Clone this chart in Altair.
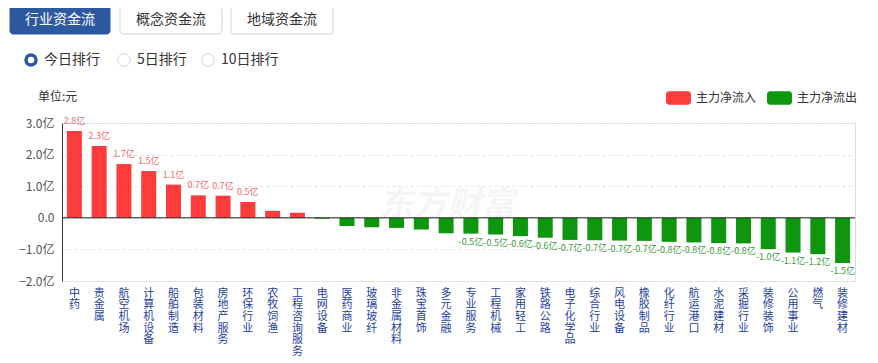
import altair as alt
import pandas as pd

categories = ["中药", "贵金属", "航空机场", "计算机设备", "船舶制造", "包装材料", "房地产服务", "环保行业",
              "农牧饲渔", "工程咨询服务", "电网设备", "医药商业", "玻璃玻纤", "非金属材料", "珠宝首饰", "多元金融",
              "专业服务", "工程机械", "家用轻工", "铁路公路", "电子化学品", "综合行业", "风电设备", "橡胶制品",
              "化纤行业", "航运港口", "水泥建材", "采掘行业", "装修装饰", "公用事业", "燃气", "装修建材"]
values = [2.75, 2.27, 1.70, 1.48, 1.05, 0.71, 0.70, 0.50,
          0.22, 0.16, -0.03, -0.26, -0.30, -0.32, -0.37, -0.49,
          -0.50, -0.53, -0.58, -0.63, -0.70, -0.71, -0.72, -0.73,
          -0.76, -0.78, -0.80, -0.81, -0.99, -1.10, -1.15, -1.43]
bar_labels = ["2.8亿", "2.3亿", "1.7亿", "1.5亿", "1.1亿", "0.7亿", "0.7亿", "0.5亿",
              "", "", "", "", "", "", "", "",
              "-0.5亿", "-0.5亿", "-0.6亿", "-0.6亿", "-0.7亿", "-0.7亿", "-0.7亿", "-0.7亿",
              "-0.8亿", "-0.8亿", "-0.8亿", "-0.8亿", "-1.0亿", "-1.1亿", "-1.2亿", "-1.5亿"]
series_names = ["主力净流入", "主力净流出"]
series_colors = ["#ff3c3c", "#0e960e"]
y_ticks = [-2, -1, 0, 1, 2, 3]
tab_buttons = ["行业资金流", "概念资金流", "地域资金流"]
radio_options = ["今日排行", "5日排行", "10日排行"]
unit_text = "单位:元"
watermark = "东方财富"

df = pd.DataFrame({
    "cat": categories,
    "val": values,
    "label": bar_labels,
    "type": [series_names[0] if v >= 0 else series_names[1] for v in values],
})

FONT = "Noto Sans CJK SC"
one = alt.Data(values=[{}])

rounded = ("M-0.76,-0.54 L0.76,-0.54 A0.24,0.24 0 0 1 1,-0.3 L1,0.3 A0.24,0.24 0 0 1 0.76,0.54 "
           "L-0.76,0.54 A0.24,0.24 0 0 1 -1,0.3 L-1,-0.3 A0.24,0.24 0 0 1 -0.76,-0.54 Z")

x_axis = alt.Axis(labelExpr="split(datum.label, '')", labelAngle=0, domain=False,
                  ticks=False, grid=False, labelBaseline="top", labelPadding=6,
                  labelLineHeight=11.7, labelFontSize=11, labelColor="#1f3f9f",
                  labelFont=FONT, labelOverlap=False)
x_scale = alt.Scale(paddingInner=0, paddingOuter=0)
y_axis = alt.Axis(values=y_ticks, tickCount=6, grid=True, gridDash=[3, 3], gridColor="#e3e3e3",
                  domain=True, domainColor="#333", ticks=False, labelPadding=8,
                  labelFontSize=12, labelColor="#555", labelFont=FONT,
                  labelOverlap=False, labelBound=False, labelFlush=False,
                  labelExpr="datum.value == 0 ? '0.0' : format(datum.value, '.1f') + '亿'")
y_scale = alt.Scale(domain=[-2, 3], nice=False, zero=False)


def X():
    return alt.X("cat:N", sort=categories, title=None, scale=x_scale, axis=x_axis)


def Y():
    return alt.Y("val:Q", title=None, scale=y_scale, axis=y_axis)


base = alt.Chart(df)

wm = alt.Chart(one).mark_text(text=watermark, fontSize=34, fontWeight="bold", fontStyle="italic",
                              color="#000", opacity=0.035, font=FONT).encode(
    x=alt.value(385), y=alt.value(83))

bars = base.mark_bar(size=15).encode(
    x=X(), y=Y(),
    color=alt.Color("type:N", title=None,
                    scale=alt.Scale(domain=series_names, range=series_colors),
                    legend=alt.Legend(orient="none", legendX=604, legendY=-38, direction="horizontal",
                                      symbolType=rounded, symbolSize=625, symbolStrokeWidth=0,
                                      symbolOpacity=1, labelFontSize=12, labelColor="#333",
                                      labelFont=FONT, labelOffset=5, columnPadding=10)))

zero = base.transform_filter("datum.cat == '中药'").transform_calculate(z="0").mark_rule(
    color="#222", strokeWidth=1).encode(
    y=alt.Y("z:Q", title=None, scale=y_scale, axis=y_axis), x=alt.value(0), x2=alt.value(793))

pos_text = base.transform_filter("datum.val > 0 && datum.label != ''").mark_text(
    baseline="bottom", dy=-5, fontSize=9, color="#f06a6a", font=FONT).encode(
    x=X(), y=Y(), text="label:N")
neg_text = base.transform_filter("datum.val < 0 && datum.label != ''").mark_text(
    baseline="top", dy=4, fontSize=9, color="#3a9a3a", font=FONT).encode(
    x=X(), y=Y(), text="label:N")

layers = [wm, bars, zero, pos_text, neg_text]

# tab buttons
btn_x = [(-52, 48), (58, 160), (169, 271)]
for i, (lbl, (x0, x1)) in enumerate(zip(tab_buttons, btn_x)):
    active = i == 0
    layers.append(alt.Chart(one).mark_rect(
        cornerRadius=3, fill="#2d5a9e" if active else "#ffffff",
        stroke="#2d5a9e" if active else "#cdd3db", strokeWidth=1).encode(
        x=alt.value(x0), x2=alt.value(x1), y=alt.value(-117), y2=alt.value(-89)))
    layers.append(alt.Chart(one).mark_text(
        text=lbl, fontSize=14, font=FONT, color="#ffffff" if active else "#333",
        align="center", baseline="middle").encode(
        x=alt.value((x0 + x1) / 2), y=alt.value(-103)))

# radio options
radio_x = [-31, 62, 146]
for i, (lbl, cx) in enumerate(zip(radio_options, radio_x)):
    active = i == 0
    layers.append(alt.Chart(one).mark_point(
        shape="circle", filled=False, fill="#ffffff", fillOpacity=1, opacity=1,
        size=100 if active else 160, stroke="#2d5a9e" if active else "#cfd6e0",
        strokeWidth=3.5 if active else 1).encode(
        x=alt.value(cx), y=alt.value(-63)))
    layers.append(alt.Chart(one).mark_text(
        text=lbl, fontSize=14, font=FONT, color="#333", align="left", baseline="middle").encode(
        x=alt.value(cx + 13), y=alt.value(-63)))

layers.append(alt.Chart(one).mark_text(
    text=unit_text, fontSize=12, font=FONT, color="#333", align="left", baseline="middle").encode(
    x=alt.value(-24), y=alt.value(-26)))

chart = alt.layer(*layers).properties(
    width=793, height=158,
    autosize=alt.AutoSizeParams(type="none"),
    padding={"left": 54, "top": 115, "right": 15, "bottom": 80},
).configure_view(stroke=None).configure(font=FONT)

chart.save("out.html", embed_options={"renderer": "svg", "actions": False})
